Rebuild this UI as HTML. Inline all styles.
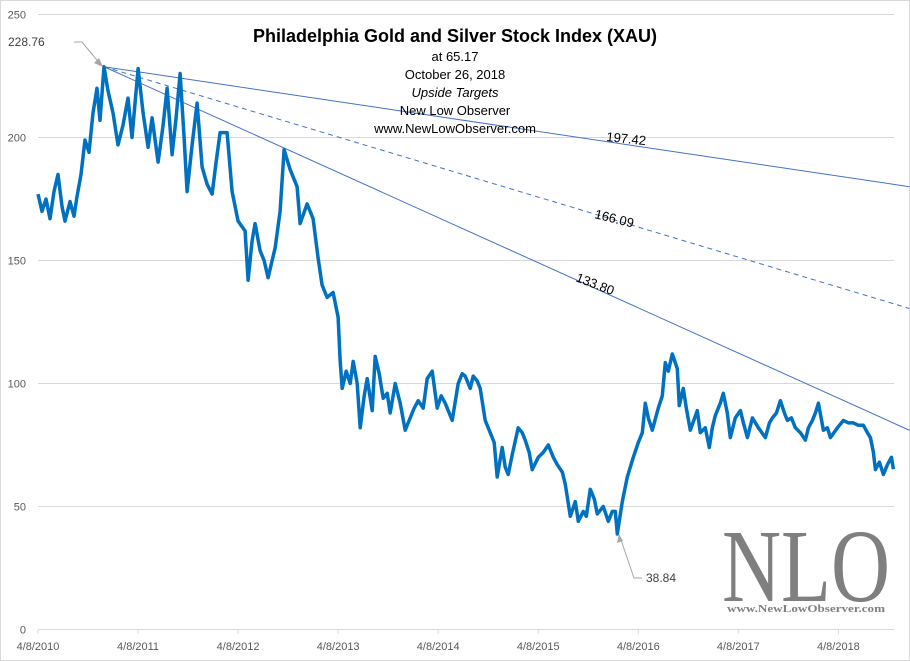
<!DOCTYPE html>
<html><head><meta charset="utf-8">
<style>
html,body{margin:0;padding:0;background:#fff;}
#wrap{position:relative;width:910px;height:661px;overflow:hidden;}
svg text{font-family:"Liberation Sans",sans-serif;}
</style></head>
<body>
<div id="wrap">
<svg id="chart" width="910" height="661" viewBox="0 0 910 661">
  <rect x="0.5" y="0.5" width="909" height="660" fill="#fff" stroke="#d9d9d9"/>
  <g id="grid"></g>
  <g id="yticks"></g>
  <g id="xticks"></g>
  <g id="trends"></g>
  <path id="series" fill="none" stroke="#0070c0" stroke-width="3.5" stroke-linejoin="round"/>
  <g>
    <text x="455" y="42" text-anchor="middle" font-size="18" font-weight="bold" fill="#000">Philadelphia  Gold and Silver Stock Index (XAU)</text>
    <text x="455" y="61" text-anchor="middle" font-size="13">at 65.17</text>
    <text x="455" y="79" text-anchor="middle" font-size="13">October 26, 2018</text>
    <text x="455" y="97" text-anchor="middle" font-size="13" font-style="italic">Upside Targets</text>
    <text x="455" y="115" text-anchor="middle" font-size="13">New Low Observer</text>
    <text x="455" y="133" text-anchor="middle" font-size="13">www.NewLowObserver.com</text>
  </g>
  <g id="annot">
    <text x="8" y="46" font-size="12" fill="#404040">228.76</text>
    <polyline points="74,42 82,42 101,65" fill="none" stroke="#a6a6a6"/>
    <polygon points="103,67 94,63 99,58" fill="#a6a6a6"/>
    <text x="646" y="582" font-size="12" fill="#404040">38.84</text>
    <polyline points="642,578 634,578 620,537" fill="none" stroke="#a6a6a6"/>
    <polygon points="619,534 617,543 623,541" fill="#a6a6a6"/>
    <text x="606" y="141" font-size="13" fill="#000" transform="rotate(6 606 141)">197.42</text>
    <text x="594" y="218" font-size="13" fill="#000" transform="rotate(14 594 218)">166.09</text>
    <text x="575" y="281" font-size="13" fill="#000" transform="rotate(21 575 281)">133.80</text>
  </g>
  <g>
    <text x="806" y="601" text-anchor="middle" font-size="104" fill="#7f7f7f" textLength="168" lengthAdjust="spacingAndGlyphs" style="font-family:'Liberation Serif',serif">NLO</text>
    <text x="806" y="612" text-anchor="middle" font-size="11" font-weight="bold" fill="#7f7f7f" textLength="158" lengthAdjust="spacingAndGlyphs" style="font-family:'Liberation Serif',serif">www.NewLowObserver.com</text>
  </g>
</svg>
</div>
<script>
const yTicks = [0, 50, 100, 150, 200, 250];
const xTickLabels = ["4/8/2010","4/8/2011","4/8/2012","4/8/2013","4/8/2014","4/8/2015","4/8/2016","4/8/2017","4/8/2018"];
const xTickYears = [2010.27,2011.27,2012.27,2013.27,2014.27,2015.27,2016.27,2017.27,2018.27];
const years = [2010.27,2010.31,2010.35,2010.39,2010.43,2010.47,2010.51,2010.54,2010.59,2010.63,2010.66,2010.70,2010.74,2010.78,2010.82,2010.86,2010.89,2010.93,2010.97,2011.02,2011.07,2011.12,2011.17,2011.21,2011.27,2011.32,2011.37,2011.41,2011.47,2011.52,2011.56,2011.61,2011.65,2011.69,2011.73,2011.76,2011.81,2011.86,2011.91,2011.96,2012.01,2012.05,2012.09,2012.16,2012.21,2012.27,2012.34,2012.37,2012.41,2012.44,2012.49,2012.53,2012.57,2012.61,2012.64,2012.69,2012.73,2012.79,2012.83,2012.86,2012.89,2012.96,2013.02,2013.07,2013.11,2013.16,2013.22,2013.27,2013.29,2013.31,2013.35,2013.39,2013.42,2013.46,2013.49,2013.53,2013.56,2013.61,2013.64,2013.68,2013.72,2013.76,2013.79,2013.84,2013.89,2013.94,2013.99,2014.03,2014.07,2014.12,2014.16,2014.21,2014.26,2014.30,2014.34,2014.41,2014.47,2014.51,2014.54,2014.59,2014.62,2014.66,2014.69,2014.74,2014.79,2014.83,2014.86,2014.91,2014.94,2014.97,2015.01,2015.07,2015.11,2015.14,2015.18,2015.21,2015.27,2015.32,2015.37,2015.42,2015.46,2015.51,2015.54,2015.59,2015.64,2015.67,2015.72,2015.75,2015.79,2015.83,2015.86,2015.92,2015.97,2016.01,2016.04,2016.06,2016.11,2016.16,2016.22,2016.27,2016.31,2016.34,2016.37,2016.41,2016.47,2016.51,2016.54,2016.57,2016.61,2016.66,2016.68,2016.72,2016.75,2016.79,2016.86,2016.89,2016.94,2016.98,2017.01,2017.04,2017.09,2017.12,2017.16,2017.19,2017.24,2017.29,2017.32,2017.36,2017.41,2017.47,2017.54,2017.58,2017.61,2017.65,2017.69,2017.73,2017.76,2017.80,2017.84,2017.89,2017.94,2017.97,2018.01,2018.04,2018.07,2018.12,2018.16,2018.19,2018.26,2018.32,2018.37,2018.42,2018.47,2018.52,2018.56,2018.59,2018.62,2018.64,2018.68,2018.72,2018.76,2018.80,2018.82];
const values = [177,170,175,167,178,185,172,166,174,168,176,185,199,194,210,220,207,228.76,219,210,197,205,216,200,228,210,196,208,190,205,220,193,208,226,200,178,197,214,188,181,177,190,202,202,178,166,162,142,158,165,154,150,143,150,155,170,195,187,183,180,165,173,167,151,140,135,137,127,109,98,105,100,109,100,82,95,102,89,111,104,94,96,88,100,92,81,86,90,93,90,102,105,90,95,92,85,100,104,103,98,103,101,98,85,80,76,62,74,66,63,71,82,80,77,72,65,70,72,75,70,67,64,59,46,52,44,48,46,57,53,47,50,44,48,48,38.84,52,62,70,76,80,92,86,81,90,95,108.5,105,112,106,91,98,90,81,89,80,82,74,82,87,92,96,88,78,86,89,84,78,86,82,78,84,86,88,93,88,85,86,82,80,77,82,85,88,92,81,82,78,82,85,84,84,83,83,80,78,72,65,68,63,67,70,65.17];
const trendStart = [2010.93, 228.76];
const trendEndYear = 2018.98;
const trendEndValues = [180, 130.5, 81];
const trendDashed = [false, true, false];

const NS = "http://www.w3.org/2000/svg";
const X0 = 38, PXY = 100.05, T0 = 2010.27;
const Y0 = 629.5, PXV = 2.46;
function xs(t){ return X0 + (t - T0) * PXY; }
function ys(v){ return Y0 - v * PXV; }

const grid = document.getElementById('grid');
const yt = document.getElementById('yticks');
yTicks.forEach(v => {
  const l = document.createElementNS(NS,'line');
  l.setAttribute('x1', 38); l.setAttribute('x2', 894);
  l.setAttribute('y1', ys(v)); l.setAttribute('y2', ys(v));
  l.setAttribute('stroke', '#d9d9d9');
  
  
  grid.appendChild(l);
  const t = document.createElementNS(NS,'text');
  t.setAttribute('x', 26); t.setAttribute('y', ys(v) + 4);
  t.setAttribute('text-anchor', 'end'); t.setAttribute('font-size', '11'); t.setAttribute('fill', '#595959');
  t.textContent = v;
  
  
  yt.appendChild(t);
});
const xt = document.getElementById('xticks');
xTickYears.forEach((yr, i) => {
  const l = document.createElementNS(NS,'line');
  l.setAttribute('x1', xs(yr)); l.setAttribute('x2', xs(yr));
  l.setAttribute('y1', 629.5); l.setAttribute('y2', 634);
  l.setAttribute('stroke', '#d9d9d9');
  
  
  grid.appendChild(l);
  const t = document.createElementNS(NS,'text');
  t.setAttribute('x', xs(yr)); t.setAttribute('y', 650);
  t.setAttribute('text-anchor', 'middle'); t.setAttribute('font-size', '11'); t.setAttribute('fill', '#595959');
  t.textContent = xTickLabels[i];
  
  
  xt.appendChild(t);
});
const tr = document.getElementById('trends');
trendEndValues.forEach((ev, i) => {
  const l = document.createElementNS(NS,'line');
  l.setAttribute('x1', xs(trendStart[0])); l.setAttribute('y1', ys(trendStart[1]));
  l.setAttribute('x2', xs(trendEndYear)); l.setAttribute('y2', ys(ev));
  l.setAttribute('stroke', '#4472c4'); l.setAttribute('stroke-width', '1');
  if (trendDashed[i]) l.setAttribute('stroke-dasharray', '5,4');
  
  
  tr.appendChild(l);
});
let d = '';
years.forEach((yr, i) => { d += (i ? 'L' : 'M') + xs(yr).toFixed(1) + ' ' + ys(values[i]).toFixed(1); });
document.getElementById('series').setAttribute('d', d);
</script>
</body></html>
